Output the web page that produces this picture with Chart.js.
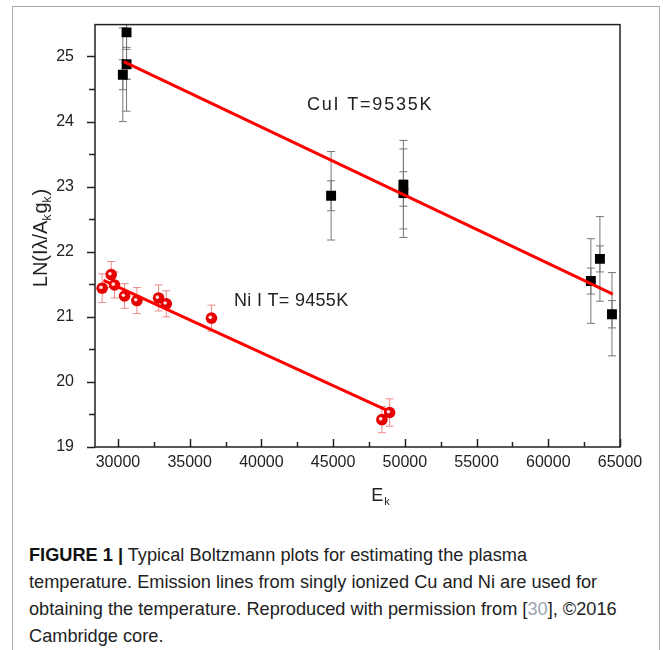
<!DOCTYPE html>
<html>
<head>
<meta charset="utf-8">
<script src="https://cdn.jsdelivr.net/npm/chart.js@4/dist/chart.umd.min.js"></script>
<style>
  html, body { margin: 0; padding: 0; background: #fff; }
  body { width: 663px; height: 650px; position: relative; overflow: hidden; font-family: "Liberation Sans", Arial, sans-serif; }
  #frame { position: absolute; left: 12px; top: 6px; width: 648px; height: 700px; border: 1px solid #a8a8a8; box-sizing: border-box; }
  #plot { position: absolute; left: 0; top: -6px; }
  #caption { position: absolute; left: 29px; top: 542px; font-size: 18.2px; line-height: 27px; color: #222; white-space: nowrap; }
  #caption b { color: #111; }
  #caption .ref { color: #9aa6b2; }
</style>
</head>
<body>
<div id="frame"></div>
<canvas id="plot" width="663" height="520"></canvas>
<div id="caption"><b>FIGURE 1 |</b> Typical Boltzmann plots for estimating the plasma<br>temperature. Emission lines from singly ionized Cu and Ni are used for<br>obtaining the temperature. Reproduced with permission from [<span class="ref">30</span>], ©2016<br>Cambridge core.</div>
<script>
// Cu I points (black squares)
const cuE = [30340, 30600, 30600, 44860, 49900, 49900, 62970, 63600, 64440];
const cuLn = [24.72, 25.37, 24.88, 22.86, 23.03, 22.90, 21.55, 21.89, 21.04];
const cuErr = [0.72, 0.72, 0.72, 0.68, 0.68, 0.68, 0.65, 0.65, 0.64];
const cuErrInner = [0.23, 0.23, 0.23, 0.23, 0.2, 0.2, 0.2, 0.2, 0.21];

// Ni I points (red spheres)
const niE = [28900, 29530, 29760, 30460, 31320, 32830, 33370, 36520, 48940, 48400];
const niLn = [21.44, 21.65, 21.49, 21.32, 21.25, 21.29, 21.20, 20.98, 19.53, 19.42];
const niErr = [0.22, 0.2, 0.2, 0.19, 0.2, 0.2, 0.2, 0.2, 0.21, 0.2];

// fitted lines (end points)
const cuFitE = [30400, 64500];
const cuFitLn = [24.92, 21.35];
const niFitE = [29000, 48800];
const niFitLn = [21.56, 19.56];

// axis ticks
const xTicks = [30000, 35000, 40000, 45000, 50000, 55000, 60000, 65000];
const yTicks = [19, 20, 21, 22, 23, 24, 25];

const toPts = (xs, ys) => xs.map((x, i) => ({ x: x, y: ys[i] }));
const FONT = '"Liberation Sans", Arial, sans-serif';
const DY = 6; // canvas is shifted up by this much

// error bars, drawn under the markers
const errorBars = {
    id: 'errorBars',
    beforeDatasetsDraw(chart) {
        const ctx = chart.ctx;
        const xs = chart.scales.x, ys = chart.scales.y;
        const area = chart.chartArea;
        const drawBar = (x, y, e, color, cap) => {
            const px = xs.getPixelForValue(x);
            const top = Math.max(ys.getPixelForValue(y + e), area.top);
            const bot = ys.getPixelForValue(y - e);
            ctx.strokeStyle = color;
            ctx.lineWidth = 1;
            ctx.beginPath();
            ctx.moveTo(px, top);
            ctx.lineTo(px, bot);
            if (ys.getPixelForValue(y + e) >= area.top) {
                ctx.moveTo(px - cap, top);
                ctx.lineTo(px + cap, top);
            }
            ctx.moveTo(px - cap, bot);
            ctx.lineTo(px + cap, bot);
            ctx.stroke();
        };
        ctx.save();
        cuE.forEach((x, i) => {
            drawBar(x, cuLn[i], cuErr[i], '#777', 4);
            drawBar(x, cuLn[i], cuErrInner[i], '#777', 4);
        });
        niE.forEach((x, i) => drawBar(x, niLn[i], niErr[i], '#f08a8a', 4));
        ctx.restore();
    },
    afterDatasetsDraw(chart) {
        // small highlight on the red spheres
        const ctx = chart.ctx;
        const meta = chart.getDatasetMeta(1);
        ctx.save();
        meta.data.forEach(pt => {
            ctx.fillStyle = 'rgba(255,235,235,0.95)';
            ctx.beginPath();
            ctx.arc(pt.x - 1.2, pt.y - 0.8, 1.8, 0, Math.PI * 2);
            ctx.fill();
        });
        ctx.restore();
    }
};

// box frame, ticks, titles and annotations
const decorations = {
    id: 'decorations',
    afterDraw(chart) {
        const ctx = chart.ctx;
        const a = chart.chartArea;
        const xs = chart.scales.x, ys = chart.scales.y;
        ctx.save();
        ctx.strokeStyle = '#222';
        ctx.lineWidth = 1.5;
        ctx.strokeRect(a.left, a.top, a.right - a.left, a.bottom - a.top);

        ctx.beginPath();
        // x ticks point inward
        for (let v = 30000; v <= 65000; v += 2500) {
            const px = Math.round(xs.getPixelForValue(v)) + 0.5;
            const len = v % 5000 === 0 ? 8 : 5;
            ctx.moveTo(px, a.bottom);
            ctx.lineTo(px, a.bottom - len);
        }
        // y ticks point outward
        for (let v = 19; v <= 25.01; v += 0.5) {
            const py = Math.round(ys.getPixelForValue(v)) + 0.5;
            const len = Math.abs(v - Math.round(v)) < 0.01 ? 8 : 6;
            ctx.moveTo(a.left, py);
            ctx.lineTo(a.left - len, py);
        }
        ctx.stroke();

        ctx.fillStyle = '#222';
        // x title E_k
        ctx.textBaseline = 'alphabetic';
        ctx.textAlign = 'left';
        ctx.font = '18px ' + FONT;
        const ew = ctx.measureText('E').width;
        ctx.font = '11px ' + FONT;
        const kw = ctx.measureText('k').width;
        let tx = 380 - (ew + kw) / 2;
        ctx.font = '18px ' + FONT;
        ctx.fillText('E', tx, 501 + DY);
        ctx.font = '11px ' + FONT;
        ctx.fillText('k', tx + ew + 1, 505 + DY);

        // y title LN(Iλ/A_k g_k)
        const big = 20, small = 12;
        const parts = [['LN(Iλ/A', big, 0], ['k', small, 4], ['g', big, 0], ['k', small, 4], [')', big, 0]];
        let total = 0;
        parts.forEach(p => { ctx.font = p[1] + 'px ' + FONT; total += ctx.measureText(p[0]).width + (p[1] < big ? 1 : 0); });
        ctx.translate(47, 238 + DY);
        ctx.rotate(-Math.PI / 2);
        let cx = -total / 2;
        parts.forEach(p => {
            ctx.font = p[1] + 'px ' + FONT;
            ctx.fillText(p[0], cx, p[2]);
            cx += ctx.measureText(p[0]).width + (p[1] < big ? 1 : 0);
        });
        ctx.setTransform(1, 0, 0, 1, 0, 0);

        // annotations
        ctx.font = '18px ' + FONT;
        ctx.textBaseline = 'middle';
        ctx.letterSpacing = '1.8px';
        ctx.fillText('CuI T=9535K', 307, 105 + DY);
        ctx.letterSpacing = '0.3px';
        ctx.fillText('Ni I T= 9455K', 234, 301 + DY);
        ctx.restore();
    }
};

const chart = new Chart(document.getElementById('plot').getContext('2d'), {
    type: 'scatter',
    data: {
        datasets: [
            {
                label: 'Cu I',
                data: toPts(cuE, cuLn),
                pointStyle: 'rect',
                pointRadius: 7,
                backgroundColor: '#000',
                borderColor: '#000',
                borderWidth: 0,
                order: 2
            },
            {
                label: 'Ni I',
                data: toPts(niE, niLn),
                pointStyle: 'circle',
                pointRadius: 5.8,
                backgroundColor: '#e60000',
                borderColor: '#e60000',
                borderWidth: 0,
                order: 2
            },
            {
                label: 'Cu fit',
                type: 'line',
                data: toPts(cuFitE, cuFitLn),
                borderColor: '#ff0000',
                borderWidth: 3,
                pointRadius: 0,
                fill: false,
                order: 1
            },
            {
                label: 'Ni fit',
                type: 'line',
                data: toPts(niFitE, niFitLn),
                borderColor: '#ff0000',
                borderWidth: 3,
                pointRadius: 0,
                fill: false,
                order: 1
            }
        ]
    },
    options: {
        responsive: false,
        animation: false,
        devicePixelRatio: 1,
        layout: { padding: { left: 0, top: 25, right: 43, bottom: 0 } },
        plugins: {
            legend: { display: false },
            tooltip: { enabled: false }
        },
        scales: {
            x: {
                type: 'linear',
                min: 28400,
                max: 65000,
                afterFit: s => { s.height = 67; },
                afterBuildTicks: s => { s.ticks = xTicks.map(v => ({ value: v })); },
                grid: { display: false, drawTicks: false },
                border: { display: false },
                ticks: {
                    padding: 6,
                    color: '#222',
                    font: { family: FONT, size: 16 },
                    maxRotation: 0,
                    callback: v => String(v)
                }
            },
            y: {
                min: 19,
                max: 25.49,
                afterFit: s => { s.width = 95; },
                afterBuildTicks: s => { s.ticks = yTicks.map(v => ({ value: v })); },
                grid: { display: false, drawTicks: false },
                border: { display: false },
                ticks: {
                    padding: 21,
                    color: '#222',
                    font: { family: FONT, size: 16 },
                    callback: v => String(v)
                }
            }
        }
    },
    plugins: [errorBars, decorations]
});
</script>
</body>
</html>
